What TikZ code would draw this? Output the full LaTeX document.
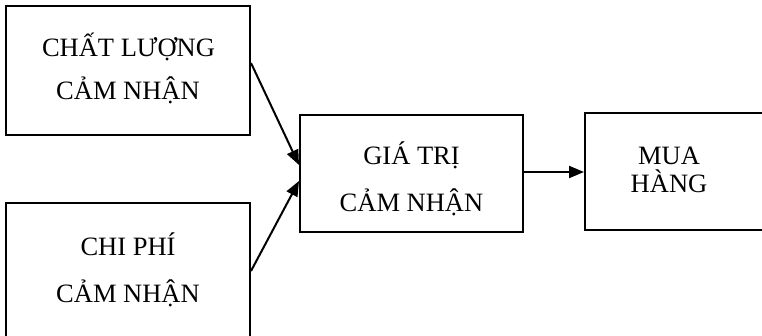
\documentclass[tikz,border=0pt]{standalone}
\usepackage{fontspec}
\setmainfont{Liberation Serif}
\usetikzlibrary{arrows.meta}
\begin{document}
\begin{tikzpicture}[x=1pt, y=-1pt,
  box/.style={draw, line width=2pt, rectangle, inner sep=0pt},
  lbl/.style={anchor=base, inner sep=0pt, font=\fontsize{26.5}{30}\selectfont},
  link/.style={line width=2pt, -{Triangle[length=15pt, width=12pt]}}]
  \useasboundingbox (0,0) rectangle (762,336);
  \clip (0,0) rectangle (762,336);
  \fill[white] (0,0) rectangle (762,336);
  % boxes
  \node[box, minimum width=244pt, minimum height=129pt] (q) at (128,70.5) {};
  \node[box, minimum width=244pt, minimum height=142pt] (c) at (128,274) {};
  \node[box, minimum width=223pt, minimum height=117pt] (v) at (411.5,173.5) {};
  \node[box, minimum width=185pt, minimum height=117pt] (m) at (677.5,171.5) {};
  % labels
  \node[lbl] (q1) at (128.5,57) {CHẤT LƯỢNG};
  \node[lbl] (q2) at (128,100) {CẢM NHẬN};
  \node[lbl] (c1) at (128,256) {CHI PHÍ};
  \node[lbl] (c2) at (128,302) {CẢM NHẬN};
  \node[lbl] (v1) at (411.5,165) {GIÁ TRỊ};
  \node[lbl] (v2) at (411.5,212) {CẢM NHẬN};
  \node[lbl] (m1) at (669,165) {MUA};
  \node[lbl] (m2) at (669,193) {HÀNG};
  % connectors
  \draw[link] ([yshift=7.5pt]q.east) -- ([yshift=8.5pt]v.west);
  \draw[link] ([yshift=3pt]c.east) -- ([yshift=-7.5pt]v.west);
  \draw[link] ([yshift=1.5pt]v.east) -- ([yshift=1.5pt]v.east -| m.west);
\end{tikzpicture}
\end{document}
